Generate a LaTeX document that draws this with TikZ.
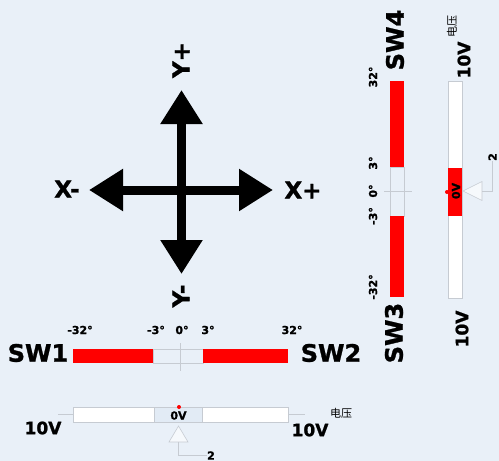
\documentclass[tikz,border=0pt]{standalone}
\usepackage{fontspec}
\setmainfont{DejaVu Sans}[BoldFeatures={FakeBold=1.2}]
\newfontfamily\cjk{Noto Sans CJK SC}
\usetikzlibrary{arrows.meta}
\definecolor{bg}{RGB}{233,240,248}
\definecolor{edge}{RGB}{198,203,210}
\definecolor{midseg}{RGB}{226,235,245}
\definecolor{trifill}{RGB}{246,249,252}
\begin{document}
\begin{tikzpicture}[x=1pt,y=-1pt,
  big/.style={font=\bfseries\fontsize{24}{24}\selectfont, inner sep=0pt},
  axlab/.style={font=\bfseries\fontsize{23}{23}\selectfont, inner sep=0pt},
  mid/.style={font=\bfseries\fontsize{17}{17}\selectfont, inner sep=0pt},
  small/.style={font=\bfseries\fontsize{11}{11}\selectfont, inner sep=0pt},
  cn/.style={font=\cjk\fontsize{11}{11}\selectfont, inner sep=0pt},
  bigarrow/.style={line width=9pt, {Triangle[width=40pt,length=34pt]}-{Triangle[width=40pt,length=34pt]}},
  redbar/.style={fill=red, draw=none, inner sep=0pt, outer sep=0pt},
  whitebar/.style={fill=white, draw=edge, line width=0.6pt, inner sep=0pt, outer sep=0pt},
  gapbar/.style={fill=midseg, draw=edge, line width=0.6pt, inner sep=0pt, outer sep=0pt},
  thinline/.style={draw=edge, line width=0.6pt},
  tri/.style={fill=trifill, draw=edge, line width=0.6pt},
  dot/.style={circle, fill=red, inner sep=0pt, minimum size=4pt}]
\fill[bg] (0,0) rectangle (499,461);
\useasboundingbox (0,0) rectangle (499,461);

% ---- cross of arrows ----
\coordinate (up) at (181.5,90);
\coordinate (dn) at (181.5,274);
\coordinate (lt) at (89,190);
\coordinate (rt) at (273,190);
\draw[bigarrow] (lt) -- (rt);
\draw[bigarrow] (up) -- (dn);
\node[axlab] (xm) at (67,189) {X-};
\node[axlab] (xp) at (303,190) {X+};
\node[axlab, rotate=90] (yp) at (181,60) {Y+};
\node[axlab, rotate=90] (ym) at (181,296) {Y-};

% ---- horizontal SW bar ----
\node[gapbar, fill=bg, minimum width=50pt, minimum height=14pt] (hgap) at (178,356) {};
\node[redbar, minimum width=80pt, minimum height=14pt] (sw1bar) at (113,356) {};
\node[redbar, minimum width=85pt, minimum height=14pt] (sw2bar) at (245.5,356) {};
\coordinate (htA) at (180,343);
\coordinate (htB) at (180,371);
\draw[thinline] (htA) -- (htB);
\node[big] (sw1) at (38,353) {SW1};
\node[big] (sw2) at (331,353) {SW2};
\node[small] (h32m) at (80,330) {-32°};
\node[small] (h3m) at (156,330) {-3°};
\node[small] (h0) at (182,330) {0°};
\node[small] (h3p) at (208,330) {3°};
\node[small] (h32p) at (292,330) {32°};

% ---- horizontal voltage bar ----
\node[whitebar, minimum width=81pt, minimum height=15pt] (hvl) at (113.5,414.5) {};
\node[gapbar, minimum width=48pt, minimum height=15pt] (hvm) at (178,414.5) {};
\node[whitebar, minimum width=86pt, minimum height=15pt] (hvr) at (245,414.5) {};
\coordinate (hleadL) at (58,414.5);
\coordinate (hleadR) at (305,414.5);
\draw[thinline] (hleadL) -- (hvl.west);
\draw[thinline] (hvr.east) -- (hleadR);
\node[small] (h0v) at (178.5,415.5) {0V};
\node[dot] (hdot) at (179,407) {};
\draw[tri] (178.5,426) -- (169,442) -- (188,442) -- cycle;
\coordinate (htribase) at (178.5,442);
\node[small] (h2) at (211,455.5) {2};
\draw[thinline] (htribase) |- (h2.west);
\node[mid] (h10l) at (43,428) {10V};
\node[mid] (h10r) at (310,430) {10V};
\node[cn] (hcn) at (341,413) {电压};

% ---- vertical SW bar ----
\node[gapbar, fill=bg, minimum width=14pt, minimum height=49pt] (vgap) at (397,191.5) {};
\node[redbar, minimum width=14pt, minimum height=86pt] (sw4bar) at (397,124) {};
\node[redbar, minimum width=14pt, minimum height=81pt] (sw3bar) at (397,256.5) {};
\coordinate (vtA) at (384,191);
\coordinate (vtB) at (412,191);
\draw[thinline] (vtA) -- (vtB);
\node[big, rotate=90] (sw4) at (395,40) {SW4};
\node[big, rotate=90] (sw3) at (394,333) {SW3};
\node[small, rotate=90] (v32p) at (373,77) {32°};
\node[small, rotate=90] (v3p) at (373,163) {3°};
\node[small, rotate=90] (v0) at (373,191) {0°};
\node[small, rotate=90] (v3m) at (373,216) {-3°};
\node[small, rotate=90] (v32m) at (373,287) {-32°};

% ---- vertical voltage bar ----
\node[whitebar, minimum width=14pt, minimum height=217pt] (vvbar) at (455,189.5) {};
\node[redbar, minimum width=14pt, minimum height=48pt] (vvred) at (455,192) {};
\node[small, rotate=90] (v0v) at (456,191) {0V};
\node[dot] (vdot) at (447,192) {};
\draw[tri] (463,191) -- (482,181.5) -- (482,200.5) -- cycle;
\coordinate (vtribase) at (482,191);
\node[small, rotate=90] (v2) at (492.5,157) {2};
\draw[thinline] (vtribase) -| (v2.west);
\node[mid, rotate=90] (v10t) at (464,60) {10V};
\node[cn, rotate=90] (vcn) at (452,26) {电压};
\node[mid, rotate=90] (v10b) at (462,329) {10V};
\end{tikzpicture}
\end{document}
